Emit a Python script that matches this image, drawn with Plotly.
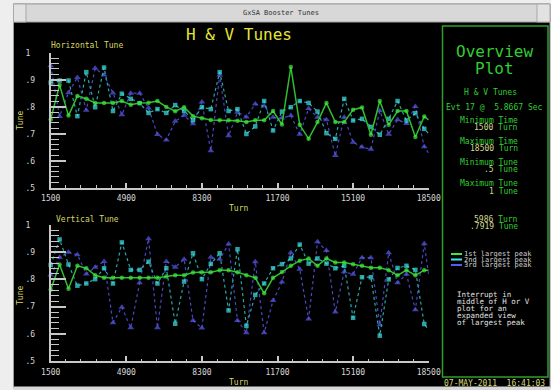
import plotly.graph_objects as go

W, H = 551, 390

# ---------------- data ----------------
turns = [1500, 1900, 2300, 2700, 3100, 3500, 3900, 4300, 4700, 5100, 5500,
         5900, 6300, 6700, 7100, 7500, 7900, 8300, 8700, 9100, 9500, 9900,
         10300, 10700, 11100, 11500, 11900, 12300, 12700, 13100, 13500, 13900,
         14300, 14700, 15100, 15500, 15900, 16300, 16700, 17100, 17500, 17900,
         18300, 18500]

h_peak1 = [.753, .880, .767, .840, .829, .814, .814, .814, .821, .807, .814,
           .815, .821, .799, .783, .798, .765, .757, .751, .750, .750, .748,
           .743, .750, .750, .784, .734, .947, .733, .681, .743, .814, .743,
           .743, .789, .797, .696, .821, .733, .784, .784, .688, .764, .751]
h_peak2 = [.889, .897, .897, .765, .928, .798, .945, .784, .848, .829, .813,
           .777, .791, .777, .806, .784, .750, .798, .791, .928, .784, .791,
           .699, .727, .821, .712, .782, .798, .821, .814, .782, .702, .681,
           .829, .749, .755, .725, .696, .755, .821, .749, .776, .718, .700]
h_peak3 = [.952, .764, .852, .908, .787, .942, .917, .851, .770, .850, .850,
           .795, .697, .677, .746, .768, .737, .817, .637, .917, .692, .779,
           .762, .810, .803, .761, .758, .767, .698, .793, .761, .752, .619,
           .761, .668, .651, .642, .785, .698, .752, .738, .801, .652, .628]

v_peak1 = [.762, .855, .766, .850, .841, .815, .806, .806, .806, .806, .806,
           .806, .806, .811, .815, .815, .825, .826, .826, .834, .834, .826,
           .815, .806, .749, .806, .827, .850, .869, .877, .850, .877, .862,
           .862, .856, .850, .843, .843, .834, .815, .834, .815, .834, .834]
v_peak2 = [.853, .947, .855, .777, .785, .801, .841, .785, .936, .835, .835,
           .865, .785, .841, .637, .792, .896, .801, .857, .896, .686, .911,
           .629, .743, .785, .841, .856, .877, .928, .858, .877, .858, .841,
           .850, .659, .808, .808, .593, .800, .842, .850, .835, .636, .614]
v_peak3 = [.816, .881, .900, .891, .820, .845, .866, .641, .698, .622, .788,
           .949, .622, .866, .845, .874, .649, .621, .881, .874, .930, .649,
           .604, .865, .604, .722, .790, .898, .837, .654, .938, .906, .680,
           .828, .819, .880, .880, .633, .898, .788, .819, .688, .931, .816]

x_ticks = [1500, 4900, 8300, 11700, 15100, 18500]
y_tick_alias = {"0.5": ".5", "0.6": ".6", "0.7": ".7", "0.8": ".8",
                "0.9": ".9", "1.0": "1\u00a0"}

series_names = ["1st largest peak", "2nd largest peak", "3rd largest peak"]

# ---------------- styles ----------------
MONO = "DejaVu Sans Mono"
GREEN = "#3fe83f"
GREEN_LINE = "#2fc02f"
CYAN = "#3ee6e6"
CYAN_LINE = "#2aa8a8"
BLUE = "#5a5af0"
BLUE_LINE = "#4848c0"
AXIS = "#c8c8c8"
YELLOW = "#e4e43a"
LABEL_Y = "#d8d860"
TXT_GREEN = "#33cc33"
VAL = "#d4d890"


def px(x):
    return x / W


def py(y):
    return 1 - y / H


n_markers = len(turns) - 1
fig = go.Figure()

styles = [
    (dict(color=BLUE_LINE, width=1.2, dash="dot"), "triangle-up", 6, BLUE),
    (dict(color=CYAN_LINE, width=1.2, dash="dot"), "square", 4.5, CYAN),
    (dict(color=GREEN_LINE, width=1.5), "circle", 4.5, GREEN),
]

for (xa, ya), series in [(("x", "y"), [h_peak3, h_peak2, h_peak1]),
                         (("x2", "y2"), [v_peak3, v_peak2, v_peak1])]:
    for (line, sym, size, col), vals, name in zip(styles, series,
                                                  series_names[::-1]):
        fig.add_trace(go.Scatter(
            x=turns, y=vals, xaxis=xa, yaxis=ya, name=name,
            mode="lines+markers", line=line,
            marker=dict(symbol=sym, size=[size] * n_markers + [0], color=col,
                        line=dict(width=0)),
            cliponaxis=False, showlegend=False, hoverinfo="x+y"))

xdom = [px(50.7), px(428.7)]
common_x = dict(
    range=[1500, 18500], showline=True, linecolor=AXIS, linewidth=2,
    ticks="inside", ticklen=5, tickwidth=1.5, tickcolor=AXIS,
    tickmode="array", tickvals=x_ticks, ticktext=[str(v) for v in x_ticks],
    tickfont=dict(family=MONO, size=8, color="#d8d8d8"),
    minor=dict(ticks="inside", ticklen=2.5, tickwidth=1.2, tickcolor=AXIS,
               tickmode="linear", tick0=1500, dtick=680),
    showgrid=False, zeroline=False, ticklabelstandoff=2, domain=xdom,
    fixedrange=True, automargin=False)
common_y = dict(
    range=[0.5, 1.0], showline=True, linecolor=AXIS, linewidth=2,
    ticks="inside", ticklen=15, tickwidth=1.5, tickcolor=AXIS,
    tickmode="linear", tick0=0.5, dtick=0.1, tickformat=".1f",
    labelalias=y_tick_alias,
    tickfont=dict(family=MONO, size=8, color="#d8d8d8"),
    minor=dict(ticks="inside", ticklen=8, tickwidth=1.2, tickcolor=AXIS,
               tickmode="linear", tick0=0.5, dtick=0.02),
    showgrid=False, zeroline=False, ticklabelstandoff=12, fixedrange=True,
    automargin=False)

fig.update_layout(
    width=W, height=H, margin=dict(l=0, r=0, t=0, b=0, pad=0, autoexpand=False),
    paper_bgcolor="#eeeeee", plot_bgcolor="#000000",
    xaxis=dict(common_x, anchor="y"),
    yaxis=dict(common_y, anchor="x", domain=[py(187.7), py(52.7)]),
    xaxis2=dict(common_x, anchor="y2"),
    yaxis2=dict(common_y, anchor="x2", domain=[py(361), py(225)]),
    showlegend=False,
)

shapes = []
# window frame
shapes.append(dict(type="rect", xref="paper", yref="paper", layer="below",
                   x0=px(13.5), x1=px(550), y0=py(388), y1=py(4),
                   fillcolor="#000000", line=dict(color="#9a9a9a", width=1)))
shapes.append(dict(type="rect", xref="paper", yref="paper", layer="below",
                   x0=px(13.5), x1=px(550), y0=py(22), y1=py(4),
                   fillcolor="#d8d8d8", line=dict(color="#a0a0a0", width=1)))
shapes.append(dict(type="rect", xref="paper", yref="paper", layer="below",
                   x0=px(13.5), x1=px(26), y0=py(22), y1=py(4),
                   fillcolor="#e2e2e2", line=dict(color="#a8a8a8", width=1)))
shapes.append(dict(type="rect", xref="paper", yref="paper", layer="below",
                   x0=px(537), x1=px(550), y0=py(22), y1=py(4),
                   fillcolor="#e2e2e2", line=dict(color="#a8a8a8", width=1)))
shapes.append(dict(type="rect", xref="paper", yref="paper", layer="below",
                   x0=px(13.5), x1=px(550), y0=py(390), y1=py(386.5),
                   fillcolor="#d8d8d8", line=dict(width=0)))
# overview box
shapes.append(dict(type="rect", xref="paper", yref="paper",
                   x0=px(442.5), x1=px(548), y0=py(377), y1=py(26),
                   line=dict(color="#2e9e2e", width=1.5)))
# legend swatches
for yy, col in [(254, GREEN), (259.5, CYAN), (265, BLUE)]:
    shapes.append(dict(type="line", xref="paper", yref="paper",
                       x0=px(451), x1=px(462), y0=py(yy), y1=py(yy),
                       line=dict(color=col, width=2)))
fig.update_layout(shapes=shapes)

anns = []


def ann(x, y, text, size=8, color="#d8d8d8", xanchor="center", angle=0,
        family=MONO):
    anns.append(dict(x=px(x), y=py(y), xref="paper", yref="paper",
                     text=text, showarrow=False, xanchor=xanchor,
                     yanchor="middle", textangle=angle, borderpad=0,
                     font=dict(family=family, size=size, color=color)))


ann(281, 13.5, "GxSA Booster Tunes", size=7, color="#333333")
ann(239, 34, "H &amp; V Tunes", size=16, color=YELLOW)
ann(50, 45.5, "Horizontal Tune", color=LABEL_Y, xanchor="left")
ann(55, 219, "Vertical Tune", color=LABEL_Y, xanchor="left")
ann(20, 121, "Tune", color=LABEL_Y, angle=-90)
ann(20, 296, "Tune", color=LABEL_Y, angle=-90)
ann(238, 208, "Turn", color=LABEL_Y)
ann(238, 382, "Turn", color=LABEL_Y)

ann(494, 52, "Overview", size=16, color=TXT_GREEN)
ann(494, 68, "Plot", size=16, color=TXT_GREEN)
ann(490, 92, "H &amp; V Tunes", color=TXT_GREEN)
ann(494, 107, "Evt 17 @\u00a0\u00a05.8667 Sec", color=TXT_GREEN)


def val(v, unit):
    return f'<span style="color:{VAL}">{v}</span> {unit}'


rows = [(120, "Minimum Time"), (127.5, val("1500", "Turn")),
        (141, "Maximum Time"), (148, val("18500", "Turn")),
        (162, "Minimum Tune"), (169.5, val(".5", "Tune")),
        (183, "Maximum Tune"), (191, val("1", "Tune")),
        (219, val("5986", "Turn")), (226, val(".7919", "Tune"))]
for yy, t in rows:
    ann(519, yy, t, color=TXT_GREEN, xanchor="right")

for yy, t in zip([254, 259.5, 265], series_names):
    ann(462.5, yy, t, size=7, color="#d0d0d0", xanchor="left")

for k, t in enumerate(["Interrupt in", "middle of H or V", "plot for an",
                       "expanded view", "of largest peak"]):
    ann(456, 294 + 7 * k, t, size=7.5, color="#e0e0e0", xanchor="left")

ann(494, 383, "07-MAY-2011\u00a0\u00a016:41:03", color="#d8d870")

fig.update_layout(annotations=anns)
fig.write_html("out.html")
